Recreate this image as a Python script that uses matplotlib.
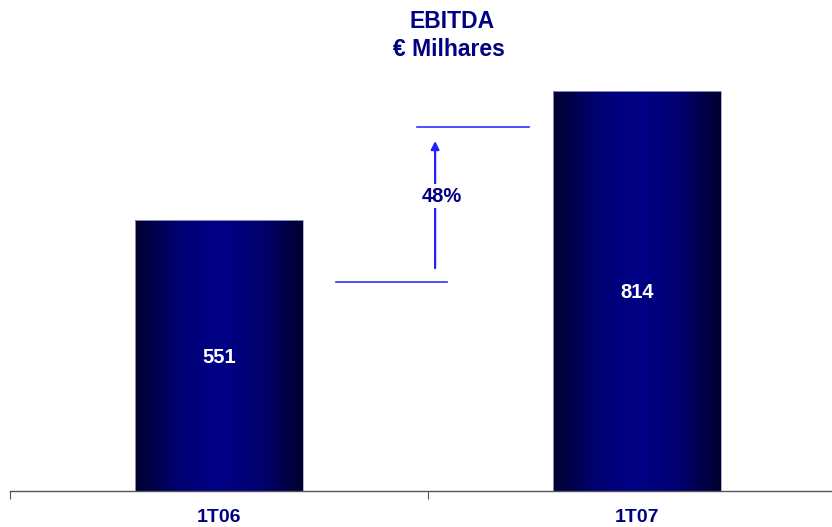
import numpy as np
import matplotlib.pyplot as plt
from matplotlib.colors import LinearSegmentedColormap
from matplotlib.patches import Rectangle

categorias = ['1T06', '1T07']
ebitda = [551, 814]
variacao = '48%'

plt.rcParams['font.family'] = ['Liberation Sans', 'DejaVu Sans']

fig = plt.figure(figsize=(8.32, 5.27), dpi=100)
ax = fig.add_axes([10 / 832, 36 / 527, 836 / 832, 411 / 527])

x = np.arange(len(categorias)) + 0.5
largura = 0.4
ymax = max(ebitda) * 411 / 400
ax.set_xlim(0, 2)
ax.set_ylim(0, ymax)

# degradê das barras
cmap = LinearSegmentedColormap.from_list('azul', ['#00002e', '#000070', '#000086', '#000070', '#00002e'])
grad = np.linspace(0, 1, 256).reshape(1, -1)
for xi, v in zip(x, ebitda):
    im = ax.imshow(grad, cmap=cmap, aspect='auto', extent=(xi - largura / 2, xi + largura / 2, 0, v), zorder=2)
    r = Rectangle((xi - largura / 2, 0), largura, v, facecolor='none', edgecolor='#a0a0d0', lw=0.6, zorder=3)
    ax.add_patch(r)
    im.set_clip_path(r)
    ax.text(xi, v / 2 - 4, str(v), color='white', fontsize=14.5, fontweight='bold', ha='center', va='center', zorder=4)

# linhas da variação
y_baixo = 425
y_cima = 741
ax.plot([0.78, 1.045], [y_baixo, y_baixo], color='#3030ff', lw=1.2, zorder=3)
ax.plot([0.974, 1.242], [y_cima, y_cima], color='#3030ff', lw=1.2, zorder=3)
xa = 1.017
ax.annotate('', xy=(xa, 718), xytext=(xa, 448),
            arrowprops=dict(arrowstyle='-|>', color='#2020ff', lw=1.6, mutation_scale=12))
ax.text(xa + 0.015, 600, variacao, color='#000080', fontsize=14.5, fontweight='bold',
        ha='center', va='center', zorder=5,
        bbox=dict(facecolor='white', edgecolor='none', pad=2))

for s in ['top', 'right', 'left']:
    ax.spines[s].set_visible(False)
ax.spines['bottom'].set_color('#555555')
ax.spines['bottom'].set_linewidth(1.0)
ax.set_yticks([])
ax.set_xticks([0, 1, 2])
ax.set_xticklabels([])
ax.set_xticks(x, minor=True)
ax.set_xticklabels(categorias, minor=True)
ax.tick_params(axis='x', which='major', length=6, color='#555555', direction='out')
ax.tick_params(axis='x', which='minor', length=0, pad=13, labelsize=14, labelcolor='#000080')
for t in ax.get_xticklabels(minor=True):
    t.set_fontweight('bold')

fig.text(452 / 832, 1 - 22 / 527, 'EBITDA', ha='center', va='center', fontsize=16.5, fontweight='bold', color='#000080')
fig.text(449 / 832, 1 - 50 / 527, '€ Milhares', ha='center', va='center', fontsize=16.5, fontweight='bold', color='#000080')

fig.savefig('out.png', dpi=100)
